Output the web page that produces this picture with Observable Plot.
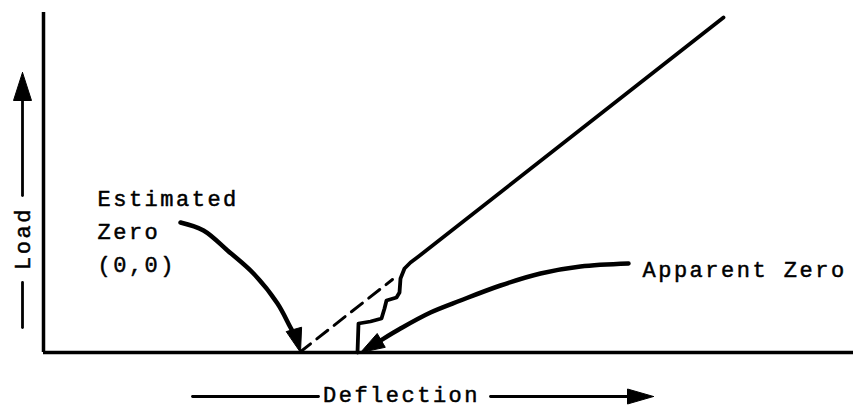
<!DOCTYPE html>
<html><head><meta charset="utf-8">
<script src="https://cdn.jsdelivr.net/npm/d3@7"></script>
<script src="https://cdn.jsdelivr.net/npm/@observablehq/plot@0.6"></script>
<style>html,body{margin:0;padding:0;background:#fff} #chart svg{display:block}</style>
</head><body><div id="chart"></div>
<script>
// Recorded load–deflection trace (arbitrary units)
const deflection = [314, 315, 327, 338, 341, 343, 353, 356, 357, 361, 367, 375, 680];
const load       = [0,   29,  31,  34,  44,  52,  55,  60,  74,  84,  90,  96,  335];
// Extrapolation of the linear part back to zero load
const extrapDeflection = [256, 349];
const extrapLoad       = [0, 73];
// "Estimated Zero" pointer
const estArrowX = [137, 160, 184, 210, 234, 247, 253];
const estArrowY = [130, 122, 102, 79, 49, 25, 14];
const estTip = [257, 0];
// "Apparent Zero" pointer
const appArrowX = [585, 537, 497, 457, 417, 387, 357, 337, 329];
const appArrowY = [89, 86, 79, 67, 52, 40, 24, 12, 7];
const appTip = [317, 0];
// Texts
const estimatedLabel = "Estimated\nZero\n(0,0)";
const apparentLabel = "Apparent Zero";
const xLabel = "Deflection";
const yLabel = "Load";

const toRows = (xs, ys) => xs.map((x, i) => ({x, y: ys[i]}));
function head(tip, from, len, hw, id) {
  const dx = tip[0] - from[0], dy = tip[1] - from[1];
  const d = Math.hypot(dx, dy), ux = dx / d, uy = dy / d;
  const bx = tip[0] - ux * len, by = tip[1] - uy * len;
  return [[tip[0], tip[1]], [bx - uy * hw, by + ux * hw], [bx + uy * hw, by - ux * hw], [tip[0], tip[1]]]
    .map(([x, y]) => ({x, y, id}));
}

const recorded = toRows(deflection, load);
const extrap = toRows(extrapDeflection, extrapLoad);
const estShaft = toRows(estArrowX, estArrowY);
const appShaft = toRows(appArrowX, appArrowY);

// axis-label arrows (outside the frame)
const yArrowUp = [{x: -21, y: 157}, {x: -21, y: 262}];
const yArrowDown = [{x: -21, y: 25}, {x: -21, y: 70}];
const xArrowLeft = [{x: 149, y: -44}, {x: 275, y: -44}];
const xArrowRight = [{x: 447, y: -44}, {x: 594, y: -44}];

const heads = [
  ...head(estTip, [estArrowX.at(-1), estArrowY.at(-1)], 24, 8, "est"),
  ...head(appTip, [appArrowX.at(-1), appArrowY.at(-1)], 24, 8, "app"),
  ...head([-21, 280], [-21, 262], 28, 9, "yl"),
  ...head([610, -44], [590, -44], 26, 7.5, "xl")
];

const txt = {fontSize: 22, fill: "black", stroke: "black", strokeWidth: 0.5, paintOrder: "fill"};

const svg = Plot.plot({
  width: 853, height: 407,
  marginLeft: 43, marginRight: 0, marginTop: 12, marginBottom: 55,
  x: {domain: [0, 810], axis: null},
  y: {domain: [0, 340], axis: null},
  style: {fontFamily: "'Liberation Mono', monospace", color: "#000", background: "#fff"},
  marks: [
    Plot.ruleX([0], {y1: 0, y2: 340, stroke: "black", strokeWidth: 3.5}),
    Plot.ruleY([0], {x1: 0, x2: 810, stroke: "black", strokeWidth: 3.5}),
    Plot.line(extrap, {x: "x", y: "y", stroke: "black", strokeWidth: 3, strokeDasharray: "14,8"}),
    Plot.line(recorded, {x: "x", y: "y", stroke: "black", strokeWidth: 3.8, strokeLinejoin: "round", strokeLinecap: "round"}),
    Plot.line(estShaft, {x: "x", y: "y", stroke: "black", strokeWidth: 4.5, curve: "catmull-rom", strokeLinecap: "round"}),
    Plot.line(appShaft, {x: "x", y: "y", stroke: "black", strokeWidth: 4.5, curve: "catmull-rom", strokeLinecap: "round"}),
    Plot.line(yArrowUp, {x: "x", y: "y", stroke: "black", strokeWidth: 2.8}),
    Plot.line(yArrowDown, {x: "x", y: "y", stroke: "black", strokeWidth: 2.8}),
    Plot.line(xArrowLeft, {x: "x", y: "y", stroke: "black", strokeWidth: 2.8}),
    Plot.line(xArrowRight, {x: "x", y: "y", stroke: "black", strokeWidth: 2.8}),
    Plot.line(heads, {x: "x", y: "y", z: "id", fill: "black", stroke: "black", strokeWidth: 1, strokeLinejoin: "round"}),
    Plot.text([estimatedLabel], {x: 54, y: 170, text: d => d, textAnchor: "start", lineAnchor: "top", lineHeight: 1.5, ...txt}),
    Plot.text([apparentLabel], {x: 599, y: 83, text: d => d, textAnchor: "start", lineAnchor: "middle", ...txt}),
    Plot.text([xLabel], {x: 358, y: -42, text: d => d, textAnchor: "middle", lineAnchor: "middle", ...txt}),
    Plot.text([yLabel], {x: -21, y: 114, text: d => d, rotate: -90, textAnchor: "middle", lineAnchor: "middle", ...txt})
  ]
});
d3.select(svg).style("letter-spacing", "2.5px").style("overflow", "visible");
document.getElementById("chart").appendChild(svg);
</script>
</body></html>
